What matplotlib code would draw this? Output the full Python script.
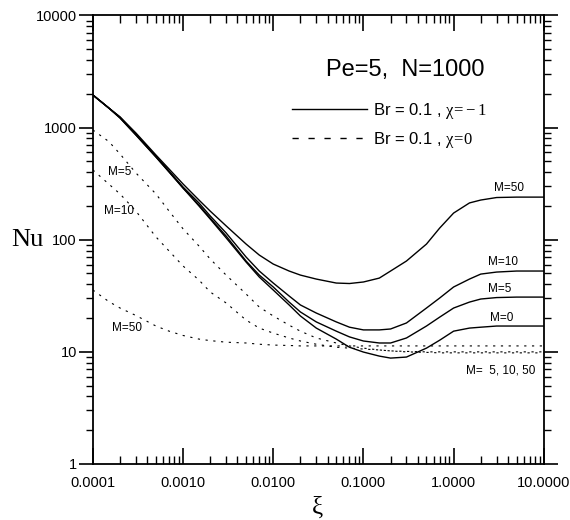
import matplotlib
matplotlib.use('Agg')
import matplotlib.pyplot as plt
from matplotlib.lines import Line2D
from matplotlib.ticker import LogLocator, FuncFormatter, NullFormatter, FixedLocator

plt.rcParams['font.family'] = ['Liberation Sans', 'DejaVu Sans']
plt.rcParams['mathtext.fontset'] = 'custom'
plt.rcParams['mathtext.rm'] = 'Liberation Serif'
plt.rcParams['mathtext.it'] = 'Liberation Serif:italic'
plt.rcParams['mathtext.bf'] = 'Liberation Serif:bold'

# ---- data -------------------------------------------------------------
xi = [1e-4, 1.5e-4, 2e-4, 3e-4, 5e-4, 7e-4,
      1e-3, 1.5e-3, 2e-3, 3e-3, 5e-3, 7e-3,
      1e-2, 1.5e-2, 2e-2, 3e-2, 5e-2, 7e-2,
      0.1, 0.15, 0.2, 0.3, 0.5, 0.7,
      1.0, 1.5, 2.0, 3.0, 5.0, 7.0, 10.0]

# Br = 0.1, chi = -1 (solid)
nu_solid_M0 = [1953, 1496, 1218, 859, 547, 402,
               289, 200, 153, 104, 63.2, 46.5,
               35.6, 26.2, 20.9, 16.3, 13.0, 11.0,
               9.96, 9.17, 8.8, 8.99, 10.8, 12.7,
               15.3, 16.3, 16.6, 17.0, 17.0, 17.0, 17.0]
nu_solid_M5 = [1953, 1496, 1218, 859, 547, 402,
               289, 204, 156, 108, 64.6, 48.4,
               37.9, 27.8, 22.7, 18.5, 15.3, 13.6,
               12.5, 12.0, 12.0, 13.3, 17.0, 20.4,
               24.6, 27.8, 29.6, 30.5, 30.8, 30.8, 30.8]
nu_solid_M10 = [1953, 1496, 1243, 877, 558, 410,
                295, 213, 163, 115, 70.1, 52.6,
                41.1, 31.5, 26.2, 22.2, 18.5, 16.6,
                15.7, 15.7, 16.0, 18.1, 24.6, 30.2,
                37.9, 44.6, 49.4, 51.5, 52.6, 52.6, 52.6]
nu_solid_M50 = [1953, 1496, 1243, 895, 570, 427,
                314, 226, 180, 133, 91.5, 73.0,
                60.7, 52.6, 48.4, 44.6, 41.1, 40.7,
                42.0, 45.5, 52.6, 64.6, 91.5, 127,
                173, 213, 226, 238, 240, 240, 240]

# Br = 0.1, chi = 0 (dashed)
nu_dash_M5 = [952, 752, 582, 394, 256, 180,
              125, 87.9, 67.3, 48.4, 32.8, 25.1,
              20.9, 17.3, 15.3, 13.3, 12.0, 11.3,
              10.8, 10.4, 10.2, 10.0, 9.9, 9.8,
              9.8, 9.8, 9.8, 9.8, 9.8, 9.8, 9.8]
nu_dash_M10 = [419, 314, 256, 180, 106, 79.3,
               58.3, 43.7, 34.2, 27.3, 19.2, 16.3,
               14.7, 13.3, 12.5, 11.7, 11.0, 10.8,
               10.6, 10.4, 10.2, 10.1, 10.0, 10.0,
               10.0, 10.0, 10.0, 10.0, 10.0, 10.0, 10.0]
nu_dash_M50 = [35.6, 28.1, 24.6, 21.1, 17.0, 15.3,
               14.0, 13.0, 12.6, 12.2, 12.0, 11.7,
               11.5, 11.4, 11.3, 11.3, 11.3, 11.3,
               11.3, 11.3, 11.3, 11.3, 11.3, 11.3,
               11.3, 11.3, 11.3, 11.3, 11.3, 11.3, 11.3]

x_ticks = [1e-4, 1e-3, 1e-2, 1e-1, 1.0, 10.0]
y_ticks = [1, 10, 100, 1000, 10000]

# ---- figure -------------------------------------------------------------
fig = plt.figure(figsize=(5.7, 5.2), dpi=100)
ax = fig.add_axes([0.163, 0.1077, 0.791, 0.8625])

solid_kw = dict(color='black', lw=1.0, ls='-')
dash_kw = dict(color='black', lw=0.8, ls=(0, (2.0, 5.0)))

for nu in (nu_solid_M0, nu_solid_M5, nu_solid_M10, nu_solid_M50):
    ax.plot(xi, nu, **solid_kw)
for nu in (nu_dash_M5, nu_dash_M10, nu_dash_M50):
    ax.plot(xi, nu, **dash_kw)

ax.set_xscale('log')
ax.set_yscale('log')
ax.set_xlim(1e-4, 10)
ax.set_ylim(1, 1e4)

ax.xaxis.set_major_locator(FixedLocator(x_ticks))
ax.xaxis.set_major_formatter(FuncFormatter(lambda v, p: f"{v:.4f}"))
ax.xaxis.set_minor_locator(LogLocator(base=10, subs=range(2, 10), numticks=20))
ax.xaxis.set_minor_formatter(NullFormatter())
ax.yaxis.set_major_locator(FixedLocator(y_ticks))
ax.yaxis.set_major_formatter(FuncFormatter(lambda v, p: f"{int(round(v))}"))
ax.yaxis.set_minor_locator(LogLocator(base=10, subs=range(2, 10), numticks=20))
ax.yaxis.set_minor_formatter(NullFormatter())

ax.tick_params(axis='x', which='both', direction='in', top=True, bottom=True,
               labelsize=10.5, pad=9)
ax.tick_params(axis='x', which='major', length=11.5, width=1.2)
ax.tick_params(axis='x', which='minor', length=5.5, width=1.0)
ax.tick_params(axis='y', which='both', direction='out', left=True, right=True,
               labelsize=10.5, pad=1.5)
ax.tick_params(axis='y', which='major', length=10, width=1.2)
ax.tick_params(axis='y', which='minor', length=5, width=1.0)
for s in ax.spines.values():
    s.set_linewidth(1.3)

ax.set_ylabel('Nu', family=['Liberation Serif'], fontsize=19, rotation=0,
              ha='center', va='center')
ax.yaxis.set_label_coords(-0.146, 0.499)
ax.set_xlabel('ξ', family=['Liberation Serif'], fontsize=18, ha='center', va='center')
ax.xaxis.set_label_coords(0.499, -0.097)

ax.text(0.692, 0.878, 'Pe=5,  N=1000', transform=ax.transAxes, fontsize=17,
        ha='center', va='center')

handles = [Line2D([], [], color='black', lw=1.0, ls='-'),
           Line2D([], [], color='black', lw=1.0, ls=(0, (4.5, 7.0)))]
labels = [r'Br = 0.1 , $\mathrm{\chi\!=\!-1}$', r'Br = 0.1 , $\mathrm{\chi\!=\!0}$']
ax.legend(handles, labels, loc='upper left', bbox_to_anchor=(0.441, 0.81),
          frameon=False, fontsize=12, handlelength=4.5, handletextpad=0.36,
          borderpad=0, borderaxespad=0, labelspacing=0.55)

lab_kw = dict(fontsize=8.5, ha='center', va='center')
ax.text(4.09, 289, 'M=50', **lab_kw)
ax.text(3.51, 63.2, 'M=10', **lab_kw)
ax.text(3.25, 36.3, 'M=5', **lab_kw)
ax.text(3.42, 20.0, 'M=0', **lab_kw)
ax.text(3.33, 6.88, 'M=  5, 10, 50', **lab_kw)
ax.text(2.0e-4, 402, 'M=5', **lab_kw)
ax.text(1.94e-4, 180, 'M=10', **lab_kw)
ax.text(2.38e-4, 16.3, 'M=50', **lab_kw)

fig.savefig('out.png', dpi=100)
